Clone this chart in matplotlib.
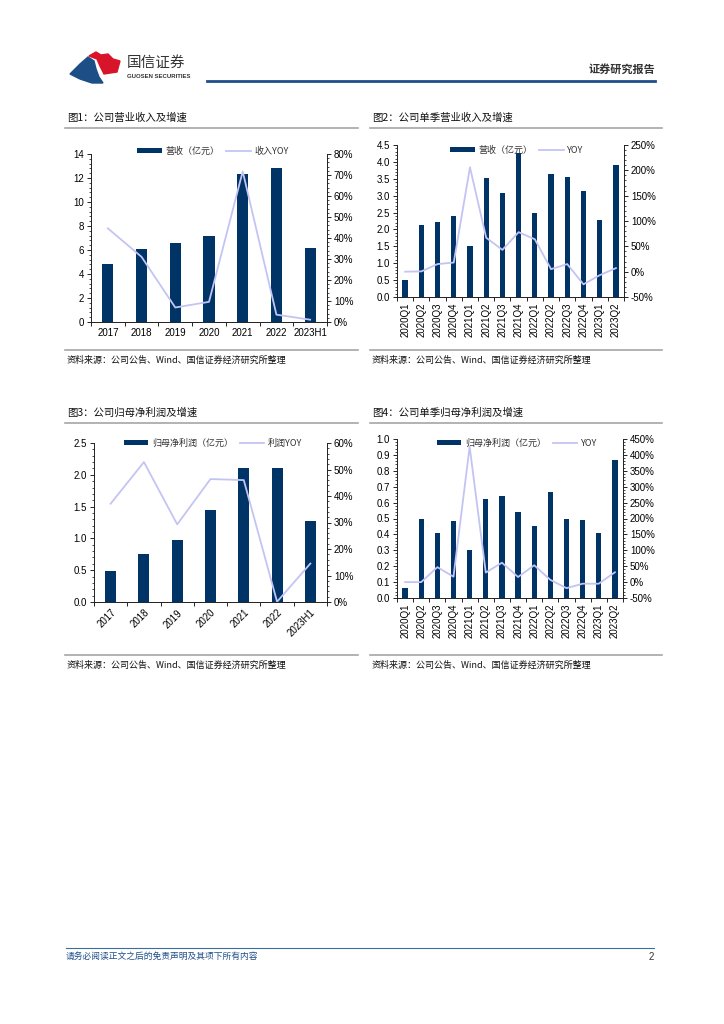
import matplotlib
matplotlib.use("Agg")
import matplotlib.pyplot as plt
import numpy as np
from matplotlib.patches import Polygon
from matplotlib.lines import Line2D
from matplotlib.ticker import AutoMinorLocator, FixedLocator, FormatStrFormatter

plt.rcParams['font.family'] = ['Liberation Sans', 'Noto Sans CJK SC']
CJK = ['Noto Sans CJK SC', 'DejaVu Sans']

# ---- data ----
years = ['2017', '2018', '2019', '2020', '2021', '2022', '2023H1']
quarters = ['2020Q1', '2020Q2', '2020Q3', '2020Q4', '2021Q1', '2021Q2', '2021Q3',
            '2021Q4', '2022Q1', '2022Q2', '2022Q3', '2022Q4', '2023Q1', '2023Q2']

revenue = [4.8, 6.1, 6.6, 7.2, 12.3, 12.8, 6.2]
revenue_yoy = [44.6, 31, 6.9, 9.6, 71.7, 3.5, 1.1]

q_revenue = [0.51, 2.13, 2.21, 2.39, 1.51, 3.53, 3.09, 4.25, 2.48, 3.64, 3.55, 3.15, 2.29, 3.91]
q_revenue_yoy = [0, 0.5, 15, 18, 206, 67, 43, 78, 64, 5, 15, -25, -7, 7]

profit = [0.49, 0.76, 0.98, 1.45, 2.10, 2.10, 1.27]
profit_yoy = [37.1, 52.8, 29.3, 46.4, 46.0, 0.1, 14.5]

q_profit = [0.06, 0.50, 0.41, 0.485, 0.30, 0.625, 0.64, 0.54, 0.45, 0.667, 0.50, 0.49, 0.41, 0.868]
q_profit_yoy = [0, 0, 47, 17, 426, 30, 61, 16, 53, 7, -19, -5, -5, 31]

NAVY = '#003366'
LAV = '#c4c4f4'
GREY = '#a6a6a6'

W, H = 724, 1024
fig = plt.figure(figsize=(7.24, 10.24), dpi=100)


def fx(x):
    return x / W


def fy(y):
    return 1 - y / H


def hline(y, x0, x1, color, lw):
    fig.add_artist(Line2D([fx(x0), fx(x1)], [fy(y), fy(y)], color=color, lw=lw,
                          transform=fig.transFigure))


def text(x, y, s, **kw):
    fig.text(fx(x), fy(y), s, **kw)


# ---- header ----
blue_pts = [(70, 74), (80, 64), (88, 57), (94, 61), (96, 69), (99, 77), (103, 83), (92, 83), (80, 79)]
red_pts = [(89, 56), (96, 52), (101, 55), (108, 54), (113, 59), (120, 61), (117, 72), (104, 74), (100, 66), (97, 59)]
fig.add_artist(Polygon([(fx(a), fy(b)) for a, b in blue_pts], closed=True, color='#1d4f86',
                       transform=fig.transFigure))
fig.add_artist(Polygon([(fx(a), fy(b)) for a, b in red_pts], closed=True, color='#d7142a',
                       transform=fig.transFigure))
text(127, 63, '国信证券', family=CJK, fontsize=10.5, color='#333333', va='center', ha='left')
text(127, 76.5, 'GUOSEN SECURITIES', fontsize=4.3, fontweight='bold', color='#333333', va='center', ha='left')
text(655, 69, '证券研究报告', family=CJK, fontsize=8, fontweight='bold', color='#333333', va='center', ha='right')
hline(81, 207, 655, '#1f4e89', 2)

# ---- footer ----
hline(948, 66, 654, '#3a6f9f', 0.8)
text(66, 956, '请务必阅读正文之后的免责声明及其项下所有内容', family=CJK, fontsize=6.3, style='italic',
     color='#1f4e89', va='center', ha='left')
text(654, 957, '2', fontsize=7, color='#333333', va='center', ha='right')


def draw(box, cats, bars, yoy, ylim, ystep, yfmt, y2lim, y2step,
         bar_label, line_label, rot, legend_xy):
    l, t, r, b = box
    ax = fig.add_axes([fx(l), fy(b), (r - l) / W, (b - t) / H])
    x = np.arange(len(cats))
    hb = ax.bar(x, bars, width=0.33, color=NAVY, label=bar_label, zorder=2)
    ax.set_xlim(-0.5, len(cats) - 0.5)
    ax.set_ylim(*ylim)
    ax.set_yticks(np.arange(ylim[0], ylim[1] + ystep / 2, ystep))
    ax.yaxis.set_major_formatter(FormatStrFormatter(yfmt))
    ax.yaxis.set_minor_locator(AutoMinorLocator(5))
    ax.set_xticks(x)
    ax.xaxis.set_minor_locator(FixedLocator(np.arange(-0.5, len(cats), 1.0)))
    ax.tick_params(axis='x', which='major', length=0, labelsize=7, pad=4)
    ax.tick_params(axis='x', which='minor', length=3, width=0.6, direction='out')
    ax.tick_params(axis='y', which='major', length=3, width=0.6, labelsize=7, pad=2)
    ax.tick_params(axis='y', which='minor', length=1.5, width=0.5)
    if rot == 0:
        ax.set_xticklabels(cats)
    elif rot == 90:
        ax.set_xticklabels(cats, rotation=90, va='top')
    else:
        ax.set_xticklabels(cats, rotation=45, ha='right', va='top', rotation_mode='anchor')

    ax2 = ax.twinx()
    hl, = ax2.plot(x, yoy, color=LAV, lw=1.3, label=line_label, zorder=3)
    ax2.set_ylim(*y2lim)
    ax2.set_yticks(np.arange(y2lim[0], y2lim[1] + y2step / 2, y2step))
    ax2.set_yticklabels([f'{int(v)}%' for v in ax2.get_yticks()])
    ax2.yaxis.set_minor_locator(AutoMinorLocator(5))
    ax2.tick_params(axis='y', which='major', length=3, width=0.6, labelsize=7, pad=2)
    ax2.tick_params(axis='y', which='minor', length=1.5, width=0.5)
    for a in (ax, ax2):
        a.spines['top'].set_visible(False)
        for s in ('left', 'right', 'bottom'):
            a.spines[s].set_linewidth(0.6)
            a.spines[s].set_color('#222222')

    leg = ax2.legend([hb, hl], [bar_label, line_label], loc='center',
                     bbox_to_anchor=(fx(legend_xy[0]), fy(legend_xy[1])),
                     bbox_transform=fig.transFigure, ncol=2, frameon=False,
                     handlelength=2.7, handleheight=0.55, columnspacing=0.8,
                     handletextpad=0.4, borderpad=0, fontsize=6.5)
    for tx in leg.get_texts():
        tx.set_fontfamily(CJK)
        tx.set_color('#333333')
    return ax


def panel_text(x0, x1, title_y, title, src_y):
    text(x0 + 2, title_y, title, family=CJK, fontsize=7.5, color='#111111', va='center', ha='left')
    hline(title_y + 10, x0, x1, GREY, 1.2)
    hline(src_y - 10, x0, x1, GREY, 1.2)
    text(x0 + 2, src_y, '资料来源：公司公告、Wind、国信证券经济研究所整理', family=CJK, fontsize=6.5,
         color='#111111', va='center', ha='left')


panel_text(65, 358, 118, '图1：公司营业收入及增速', 360)
panel_text(370, 662, 118, '图2：公司单季营业收入及增速', 360)
panel_text(65, 358, 413, '图3：公司归母净利润及增速', 665)
panel_text(370, 662, 413, '图4：公司单季归母净利润及增速', 665)

draw((91, 154, 327, 322), years, revenue, revenue_yoy, (0, 14), 2, '%d',
     (0, 80), 10, '营收（亿元）', '收入YOY', 0, (213, 151))
draw((397, 145, 624, 297), quarters, q_revenue, q_revenue_yoy, (0, 4.5), 0.5, '%.1f',
     (-50, 250), 50, '营收（亿元）', 'YOY', 90, (517, 150))
draw((94, 443, 327, 602), years, profit, profit_yoy, (0, 2.5), 0.5, '%.1f',
     (0, 60), 10, '归母净利润（亿元）', '利润YOY', 45, (213, 443))
draw((397, 439, 623, 598), quarters, q_profit, q_profit_yoy, (0, 1.0), 0.1, '%.1f',
     (-50, 450), 50, '归母净利润（亿元）', 'YOY', 90, (517, 443))

fig.savefig('out.png', dpi=100)
